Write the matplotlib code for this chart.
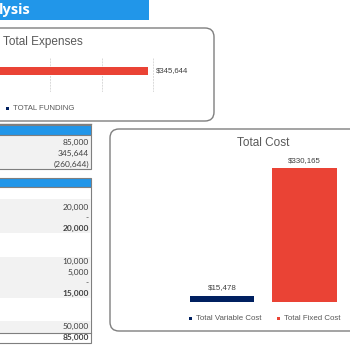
import matplotlib.pyplot as plt
from matplotlib.patches import FancyBboxPatch, Rectangle

# Data
funding_label = 'TOTAL FUNDING'
expense_series = ['Total Funding', 'Total Expenses']
expense_values = [85000, 345644]
cost_series = ['Total Variable Cost', 'Total Fixed Cost']
cost_values = [15478, 330165]
summary_values = ['85,000', '345,644', '(260,644)']
detail_values = ['', '20,000', '-', '20,000', '', '', '10,000', '5,000', '-', '15,000',
                 '', '', '50,000', '85,000']
detail_bold = [False, False, False, True, False, False, False, False, False, True,
               False, False, False, True]

BLUE = '#2196E9'
RED = '#EA4335'
NAVY = '#002060'
GREY = '#7F7F7F'
BAND = '#F2F2F2'

W = H = 350
fig = plt.figure(figsize=(3.5, 3.5), dpi=100)


def rect(x0, y0, x1, y1):
    # pixel box (top-left origin) -> figure fraction
    return [x0 / W, 1 - y1 / H, (x1 - x0) / W, (y1 - y0) / H]


# background layer in pixel coordinates
bg = fig.add_axes([0, 0, 1, 1])
bg.set_xlim(0, W)
bg.set_ylim(H, 0)
bg.axis('off')

# header bar
bg.add_patch(Rectangle((-5, 0), 154, 20, color=BLUE, lw=0))
bg.text(-1, 10, 'lysis', color='white', fontsize=10.5, fontweight='bold',
        va='center', ha='left', family='Open Sans')

# chart boxes
bg.add_patch(FancyBboxPatch((-20, 28), 234, 93, boxstyle='round,pad=0,rounding_size=9',
                            fc='white', ec=GREY, lw=1.0))
bg.add_patch(FancyBboxPatch((110, 129), 260, 202, boxstyle='round,pad=0,rounding_size=9',
                            fc='white', ec=GREY, lw=1.0))
bg.text(3, 42, 'Total Expenses', fontsize=8.5, color='#595959', va='center',
        family='Liberation Sans')
bg.text(263, 143, 'Total Cost', fontsize=8.5, color='#595959', va='center', ha='center',
        family='Liberation Sans')

# top legend
bg.add_patch(Rectangle((5.5, 106.5), 3, 3, color=NAVY, lw=0))
bg.text(13, 108, funding_label, fontsize=5.6, color='#595959', va='center',
        family='Liberation Sans')

# summary table
bg.plot([-5, 91], [124, 124], color=GREY, lw=1)
bg.add_patch(Rectangle((-5, 125), 96, 9.5, fc=BLUE, ec=GREY, lw=0.8))
bg.add_patch(Rectangle((-5, 134.5), 96, 34.5, fc=BAND, ec=GREY, lw=0.8))
for i, v in enumerate(summary_values):
    bg.text(89, 142 + 11 * i, v, fontsize=6, color='#404040', ha='right', va='center',
            family='Lato')

# detail table
bg.add_patch(Rectangle((-5, 178), 96, 8.5, fc=BLUE, ec=GREY, lw=0.8))
bg.add_patch(Rectangle((-5, 186.5), 96, 156, fc='white', ec=GREY, lw=0.8))
for y0, y1 in [(199, 233), (257, 298), (321, 332.5)]:
    bg.add_patch(Rectangle((-5, y0), 96, y1 - y0, fc=BAND, lw=0))
bg.plot([-5, 91], [332.5, 332.5], color=GREY, lw=0.8)
detail_y = [193, 207.5, 218, 228, 238, 250, 261.5, 272, 282.5, 293, 305, 315, 326.5, 337.5]
for y, v, b in zip(detail_y, detail_values, detail_bold):
    if v:
        bg.text(89, y, v, fontsize=6, color='#404040', ha='right', va='center',
                family='Lato', fontweight='bold' if b else 'normal')

# Total Expenses bar chart (clustered horizontal bars, axis partly off-page)
ax1 = fig.add_axes(rect(-206, 58, 204, 92))
ax1.patch.set_alpha(0)
ax1.barh([-0.118, 0.118], expense_values, height=0.235, color=[NAVY, RED])
ax1.set_xlim(0, 400000)
ax1.set_ylim(-0.5, 0.5)
ax1.set_xticks(range(0, 400001, 50000))
ax1.grid(axis='x', color='#D9D9D9', lw=0.7, linestyle=(0, (2, 1)))
ax1.set_axisbelow(True)
ax1.tick_params(length=0, labelbottom=False, labelleft=False)
for s in ax1.spines.values():
    s.set_visible(False)
ax1.annotate('${:,}'.format(expense_values[1]), (expense_values[1], 0.118),
             xytext=(8, 0), textcoords='offset pixels', va='center', fontsize=5.6,
             color='#404040', family='Liberation Sans')

# Total Cost column chart
ax2 = fig.add_axes(rect(140, 160, 360, 302))
ax2.patch.set_alpha(0)
xs = [0, 1]
ax2.bar(xs, cost_values, width=0.785, color=[NAVY, RED])
ax2.set_xlim((140 - 222) / 82.5, (360 - 222) / 82.5)
ax2.set_ylim(0, 350000)
ax2.axis('off')
for x, v in zip(xs, cost_values):
    ax2.annotate('${:,}'.format(v), (x, v), xytext=(0, 8), textcoords='offset pixels',
                 ha='center', va='center', fontsize=5.7, color='#404040',
                 family='Liberation Sans')

# Total Cost legend
for mx, name, col in zip([189, 276.5], cost_series, [NAVY, RED]):
    bg.add_patch(Rectangle((mx, 316.5), 3, 3, color=col, lw=0))
    bg.text(mx + 7, 318, name, fontsize=5.7, color='#595959', va='center',
            family='Liberation Sans')

fig.savefig('out.png', dpi=100)
